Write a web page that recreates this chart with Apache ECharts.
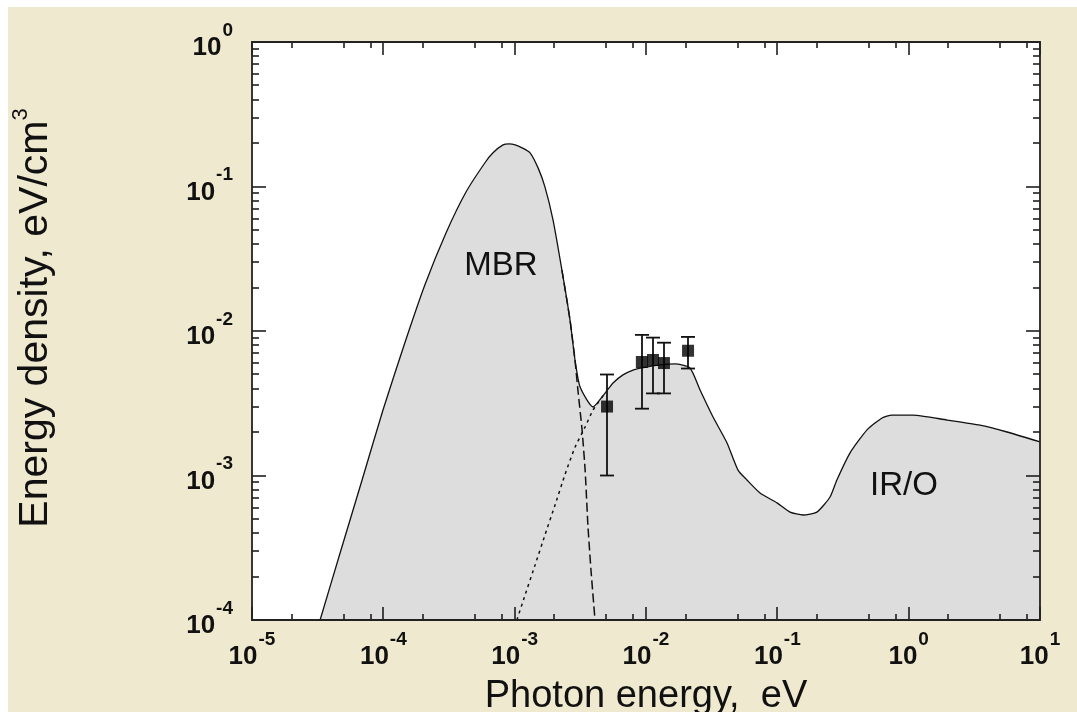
<!DOCTYPE html>
<html><head><meta charset="utf-8">
<script src="https://cdn.jsdelivr.net/npm/echarts@6/dist/echarts.min.js"></script>
<style>
html,body{margin:0;padding:0;background:#ffffff;}
#bg{position:absolute;left:8px;top:7px;width:1069px;height:705px;background:#efe9cf;}
#c{position:absolute;left:0;top:0;width:1077px;height:712px;}
</style>
</head><body><div id="bg"></div><div id="c"></div>
<script>
// Total (MBR + IR/O) energy density curve
const totalE = [3.30e-5, 4.76e-5, 6.89e-5, 9.94e-5, 1.44e-4, 2.07e-4, 3.00e-4, 4.26e-4, 5.94e-4, 6.84e-4,
  8.15e-4, 9.06e-4, 1.01e-3, 1.14e-3, 1.31e-3, 1.51e-3, 1.70e-3, 1.96e-3, 2.29e-3, 2.64e-3,
  2.88e-3, 3.15e-3, 3.95e-3, 4.88e-3, 5.61e-3, 6.68e-3, 7.96e-3, 9.33e-3, 1.28e-2, 1.66e-2,
  2.16e-2, 2.58e-2, 3.24e-2, 4.14e-2, 5.02e-2, 5.87e-2, 7.38e-2, 9.95e-2, 0.125, 0.157,
  0.200, 0.252, 0.284, 0.357, 0.482, 0.627, 0.746, 1.08, 1.96, 3.49, 5.61, 10];
const totalU = [1.0e-4, 3.05e-4, 9.31e-4, 2.84e-3, 8.0e-3, 2.08e-2, 4.77e-2, 9.16e-2, 0.146, 0.171,
  0.194, 0.197, 0.194, 0.185, 0.171, 0.134, 9.93e-2, 5.86e-2, 2.64e-2, 1.19e-2,
  6.30e-3, 4.09e-3, 2.98e-3, 3.72e-3, 4.37e-3, 4.97e-3, 5.37e-3, 5.55e-3, 5.82e-3, 5.92e-3,
  5.55e-3, 3.91e-3, 2.54e-3, 1.68e-3, 1.09e-3, 9.31e-4, 7.57e-4, 6.46e-4, 5.58e-4, 5.33e-4,
  5.58e-4, 7.10e-4, 9.31e-4, 1.43e-3, 2.07e-3, 2.50e-3, 2.62e-3, 2.62e-3, 2.42e-3, 2.23e-3, 2.00e-3, 1.71e-3];
// MBR component alone (dashed, Wien tail)
const mbrE = [2.29e-3, 2.64e-3, 2.88e-3, 3.03e-3, 3.26e-3, 3.44e-3, 3.61e-3, 3.81e-3, 4.09e-3];
const mbrU = [2.64e-2, 1.19e-2, 6.30e-3, 3.91e-3, 2.07e-3, 1.09e-3, 4.54e-4, 2.22e-4, 1.0e-4];
// IR/O component alone (dotted, low-energy side)
const irE = [1.04e-3, 1.20e-3, 1.43e-3, 1.70e-3, 2.03e-3, 2.42e-3, 2.88e-3, 3.44e-3, 3.95e-3, 4.88e-3];
const irU = [1.0e-4, 1.49e-4, 2.40e-4, 3.87e-4, 6.25e-4, 1.02e-3, 1.57e-3, 2.17e-3, 2.84e-3, 3.72e-3];
// Measurements with error bars
const measE  = [5.05e-3, 9.3e-3, 1.13e-2, 1.37e-2, 2.09e-2];
const measU  = [3.0e-3, 6.1e-3, 6.3e-3, 6.0e-3, 7.3e-3];
const measLo = [1.0e-3, 2.9e-3, 3.7e-3, 3.7e-3, 5.5e-3];
const measHi = [5.0e-3, 9.4e-3, 9.0e-3, 8.3e-3, 9.1e-3];
// Region labels
const labelText = ['MBR', 'IR/O'];
const labelE = [7.87e-4, 0.92];
const labelU = [0.0284, 8.53e-4];
// Axis ticks
const xExps = [-5, -4, -3, -2, -1, 0, 1];
const yExps = [-4, -3, -2, -1, 0];
const xMinorMult = [2, 5, 8];
const yMinorMult = [2, 3, 4, 5, 6, 7, 8, 9];
const xTitle = 'Photon energy,  eV';
const yTitle = 'Energy density, eV/cm';
const yTitleSup = '3';

const FONT = "'Liberation Sans', Arial, Helvetica, sans-serif";
const INK = '#111111';

const zip = (a, b) => a.map((v, i) => [v, b[i]]);

const xTicks = [];
xExps.forEach((e, i) => {
  xTicks.push([Math.pow(10, e), 1e-4, 1]);
  if (i < xExps.length - 1) xMinorMult.forEach(m => xTicks.push([m * Math.pow(10, e), 1e-4, 0]));
});
const yTicks = [];
yExps.forEach((e, i) => {
  yTicks.push([1e-5, Math.pow(10, e), 1]);
  if (i < yExps.length - 1) yMinorMult.forEach(m => yTicks.push([1e-5, m * Math.pow(10, e), 0]));
});

const expLabel = v => '{b|10}{e|' + Math.round(Math.log10(v)) + '}';
const labelRich = {
  b: {fontSize: 26, fontWeight: 'bold', fontFamily: FONT, color: INK, lineHeight: 40, verticalAlign: 'bottom'},
  e: {fontSize: 19, fontWeight: 'bold', fontFamily: FONT, color: INK, lineHeight: 19, verticalAlign: 'top', padding: [0, 0, 0, 1]}
};

const chart = echarts.init(document.getElementById('c'), null, {renderer: 'canvas'});
chart.setOption({
  backgroundColor: 'transparent',
  animation: false,
  grid: {left: 252, top: 42, width: 788, height: 578, show: true, backgroundColor: '#ffffff', borderWidth: 0,
    containLabel: false, outerBoundsMode: 'none'},
  xAxis: {
    type: 'log', logBase: 10, min: 1e-5, max: 10, interval: 1,
    axisLine: {show: false}, axisTick: {show: false}, splitLine: {show: false},
    axisLabel: {formatter: expLabel, margin: 10, rich: labelRich},
    name: xTitle, nameLocation: 'middle', nameGap: 58, nameMoveOverlap: false,
    nameTextStyle: {fontSize: 38, fontFamily: FONT, color: INK}
  },
  yAxis: {
    type: 'log', logBase: 10, min: 1e-4, max: 1, interval: 1,
    axisLine: {show: false}, axisTick: {show: false}, splitLine: {show: false},
    axisLabel: {formatter: expLabel, margin: 19, rich: labelRich, padding: [0, 0, 2, 0]},
    name: '{t|' + yTitle + '}{s|' + yTitleSup + '}', nameLocation: 'middle', nameGap: 196, nameRotate: 90,
    nameMoveOverlap: false,
    nameTextStyle: {
      padding: [0, 0, 0, 26],
      rich: {
        t: {fontSize: 41, fontFamily: FONT, color: INK, lineHeight: 46, verticalAlign: 'bottom'},
        s: {fontSize: 22, fontFamily: FONT, color: INK, lineHeight: 22, verticalAlign: 'top'}
      }
    }
  },
  series: [
    {
      type: 'line', name: 'total', data: zip(totalE, totalU), symbol: 'none', smooth: 0.2,
      lineStyle: {color: INK, width: 1.3},
      areaStyle: {color: '#dddddd', opacity: 1, origin: 'start'}, z: 2
    },
    {
      type: 'line', name: 'MBR', data: zip(mbrE, mbrU), symbol: 'none', smooth: 0.15,
      lineStyle: {color: INK, width: 1.5, type: [9, 4]}, z: 3
    },
    {
      type: 'line', name: 'IR/O', data: zip(irE, irU), symbol: 'none', smooth: 0.15,
      lineStyle: {color: INK, width: 1.5, type: [3, 4]}, z: 3
    },
    {
      type: 'custom', name: 'errors', z: 4,
      data: measE.map((e, i) => [e, measLo[i], measHi[i]]),
      renderItem: (params, api) => {
        const e = api.value(0);
        const p1 = api.coord([e, api.value(1)]);
        const p2 = api.coord([e, api.value(2)]);
        const x = Math.round(p1[0]);
        const st = {stroke: INK, lineWidth: 1.8};
        return {type: 'group', children: [
          {type: 'line', shape: {x1: x, y1: p1[1], x2: x, y2: p2[1]}, style: st},
          {type: 'line', shape: {x1: x - 7, y1: p1[1], x2: x + 7, y2: p1[1]}, style: st},
          {type: 'line', shape: {x1: x - 7, y1: p2[1], x2: x + 7, y2: p2[1]}, style: st}
        ]};
      }
    },
    {
      type: 'scatter', name: 'data', data: zip(measE, measU), symbol: 'rect', symbolSize: 12,
      itemStyle: {color: '#000000'}, z: 5
    },
    {
      type: 'custom', name: 'labels', z: 5,
      data: labelE.map((e, i) => [e, labelU[i], i]),
      renderItem: (params, api) => {
        const p = api.coord([api.value(0), api.value(1)]);
        return {type: 'text', x: p[0], y: p[1], style: {
          text: labelText[api.value(2)], fontSize: 33, fontFamily: FONT, fill: INK,
          align: 'center', verticalAlign: 'middle'
        }};
      }
    },
    {
      type: 'custom', name: 'xticks', z: 6, data: xTicks,
      renderItem: (params, api) => {
        const cs = params.coordSys;
        const px = Math.round(api.coord([api.value(0), 1e-4])[0]);
        const len = api.value(2) ? 13 : 6;
        const st = {stroke: INK, lineWidth: 1.5};
        const b = cs.y + cs.height, t = cs.y;
        return {type: 'group', children: [
          {type: 'line', shape: {x1: px, y1: b, x2: px, y2: b - len}, style: st},
          {type: 'line', shape: {x1: px, y1: t, x2: px, y2: t + len}, style: st}
        ]};
      }
    },
    {
      type: 'custom', name: 'yticks', z: 6, data: yTicks,
      renderItem: (params, api) => {
        const cs = params.coordSys;
        const py = Math.round(api.coord([1e-5, api.value(1)])[1]);
        const len = api.value(2) ? 14 : 7;
        const st = {stroke: INK, lineWidth: 1.5};
        const l = cs.x, r = cs.x + cs.width;
        return {type: 'group', children: [
          {type: 'line', shape: {x1: l, y1: py, x2: l + len, y2: py}, style: st},
          {type: 'line', shape: {x1: r, y1: py, x2: r - len, y2: py}, style: st}
        ]};
      }
    },
    {
      type: 'custom', name: 'frame', z: 7, data: [[1e-3, 1e-2]],
      renderItem: (params, api) => {
        const cs = params.coordSys;
        return {type: 'rect', shape: {x: cs.x, y: cs.y, width: cs.width, height: cs.height},
          style: {fill: null, stroke: '#222222', lineWidth: 1.8}};
      }
    }
  ]
});
</script>
</body></html>
